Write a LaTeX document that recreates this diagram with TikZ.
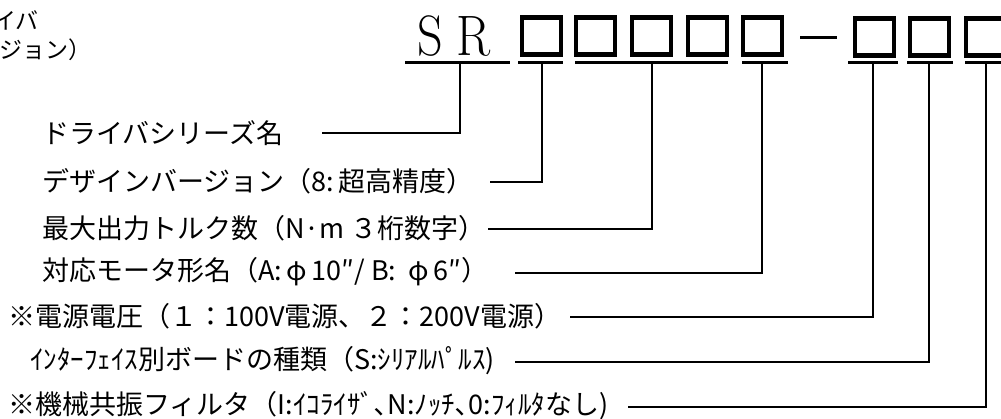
\documentclass[tikz,border=0pt]{standalone}
\usepackage{fontspec}
\usepackage{graphicx}
\newfontfamily\jp{Noto Sans CJK JP}
\begin{document}
\begin{tikzpicture}[x=1pt,y=-1pt,
  box/.style={draw, line width=4.5pt, minimum width=39pt, minimum height=37pt, inner sep=0pt},
  uline/.style={line width=3pt},
  conn/.style={line width=2.2pt},
  lbl/.style={anchor=west, inner sep=0pt, font=\jp\fontsize{27}{27}\selectfont},
  cut/.style={anchor=east, inner sep=0pt, font=\jp\fontsize{23}{23}\selectfont}]
\useasboundingbox (0,0) rectangle (1001,419);
% partial text at the top left edge
\node[cut] (c1) at (39,20) {イバ};
\node[cut] (c2) at (92,50) {ジョン）};
% model code
\node[anchor=base west, inner sep=0pt, font=\fontsize{57}{57}\selectfont] (sr) at (417,56) {\scalebox{0.88}[1]{S\hspace{16pt}R}};
\node[box] (b1) at (541.5,36) {};
\node[box] (b2) at (595.5,36) {};
\node[box] (b3) at (651.5,36) {};
\node[box] (b4) at (707.5,36) {};
\node[box] (b5) at (762.5,36) {};
\node[box] (b6) at (874.5,37) {};
\node[box] (b7) at (929.5,37) {};
\node[box] (b8) at (985.5,37) {};
\draw[line width=3pt] (800,38) -- (837,38);
% underlines
\coordinate (u0) at (460,63);
\coordinate (u1) at (542,63);
\coordinate (u2) at (652,63);
\coordinate (u3) at (762,63);
\coordinate (u4) at (873,63);
\coordinate (u5) at (929,63);
\coordinate (u6) at (986,63);
\draw[uline] (405,63) -- (510,63);
\draw[uline] (518,63) -- (563,63);
\draw[uline] (575,63) -- (728,63);
\draw[uline] (742,63) -- (788,63);
\draw[uline] (848,63) -- (898,63);
\draw[uline] (907,63) -- (953,63);
\draw[uline] (965,63) -- (1010,63);
% labels
\node[lbl] (t1) at (42,133) {ドライバシリーズ名};
\node[lbl] (t2) at (42,181) {デザインバージョン（8:\,超高精度）};
\node[lbl] (t3) at (42,228) {最大出力トルク数（N·m ３桁数字）};
\node[lbl] (t4) at (42,272) {対応モータ形名（A:\,φ\,10″/ B:\ \ φ\,6″）};
\node[lbl] (t5) at (8,316) {※電源電圧（１：100V電源、２：200V電源）};
\node[lbl] (t6) at (30,361) {ｲﾝﾀｰﾌｪｲｽ別ボードの種類（S:ｼﾘｱﾙﾊﾟﾙｽ)};
\node[lbl] (t7) at (8,406) {※機械共振フィルタ（I:ｲｺﾗｲｻﾞ､N:ﾉｯﾁ､0:ﾌｨﾙﾀなし)};
% connector start points
\coordinate (s1) at (322,133);
\coordinate (s2) at (490,182);
\coordinate (s3) at (488,229);
\coordinate (s4) at (515,273);
\coordinate (s5) at (570,317);
\coordinate (s6) at (515,362);
\coordinate (s7) at (628,407);
\draw[conn] (s1) -| (u0);
\draw[conn] (s2) -| (u1);
\draw[conn] (s3) -| (u2);
\draw[conn] (s4) -| (u3);
\draw[conn] (s5) -| (u4);
\draw[conn] (s6) -| (u5);
\draw[conn] (s7) -| (u6);
\end{tikzpicture}
\end{document}
